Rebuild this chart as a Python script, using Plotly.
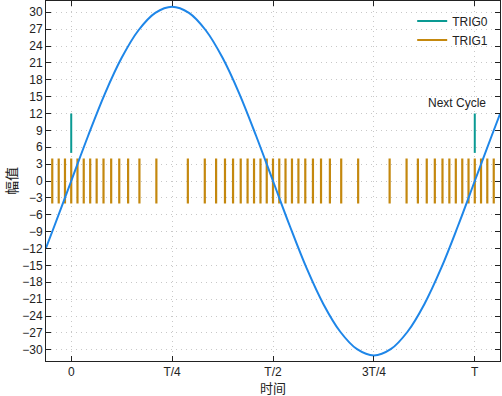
import plotly.graph_objects as go

# --- data (time in units of the period T) ---
tick_vals = [0, 0.25, 0.5, 0.75, 1.0]
tick_text = ["0", "T/4", "T/2", "3T/4", "T"]

# sine samples every T/24
sine_t = [-0.0625, -0.0417, 0.0, 0.0417, 0.0833, 0.125, 0.1667, 0.2083, 0.25,
          0.2917, 0.3333, 0.375, 0.4167, 0.4583, 0.5,
          0.5417, 0.5833, 0.625, 0.6667, 0.7083, 0.75,
          0.7917, 0.8333, 0.875, 0.9167, 0.9583, 1.0, 1.0417, 1.0625]
sine_v = [-11.9, -8.0, 0.0, 8.0, 15.5, 21.9, 26.8, 29.9, 31.0,
          29.9, 26.8, 21.9, 15.5, 8.0, 0.0,
          -8.0, -15.5, -21.9, -26.8, -29.9, -31.0,
          -29.9, -26.8, -21.9, -15.5, -8.0, 0.0, 8.0, 11.9]

trig0_t = [0.0, 1.0]
trig0_lo, trig0_hi = 5, 12

trig1_t = [-0.047, -0.031, -0.0155,
           0.0, 0.0155, 0.031, 0.047, 0.063, 0.080, 0.099, 0.119, 0.141, 0.169, 0.211,
           0.289, 0.331, 0.359, 0.381, 0.401, 0.420, 0.437, 0.453, 0.469, 0.4845,
           0.5, 0.5155, 0.531, 0.547, 0.563, 0.580, 0.599, 0.619, 0.641, 0.669, 0.711,
           0.789, 0.831, 0.859, 0.881, 0.901, 0.920, 0.937, 0.953, 0.969, 0.9845,
           1.0, 1.0155, 1.031, 1.047]
trig1_lo, trig1_hi = -4, 4

y_ticks = list(range(-30, 31, 3))

FONT = "Liberation Sans, Arial, Noto Sans CJK SC, sans-serif"
CJK = "Noto Sans CJK SC, sans-serif"

def segs(ts, lo, hi):
    xs, ys = [], []
    for t in ts:
        xs += [t, t, None]
        ys += [lo, hi, None]
    return xs, ys

fig = go.Figure()

x1, y1 = segs(trig1_t, trig1_lo, trig1_hi)
fig.add_trace(go.Scatter(x=x1, y=y1, mode="lines", name="TRIG1",
                         line=dict(color="#C4880E", width=2.2), showlegend=False))
fig.add_trace(go.Scatter(x=sine_t, y=sine_v, mode="lines", name="sine",
                         line=dict(color="#1E86E8", width=2, shape="spline", smoothing=1.0),
                         showlegend=False))
x0, y0 = segs(trig0_t, trig0_lo, trig0_hi)
fig.add_trace(go.Scatter(x=x0, y=y0, mode="lines", name="TRIG0",
                         line=dict(color="#0A9A93", width=2)))
fig.add_trace(go.Scatter(x=[None], y=[None], mode="lines", name="TRIG1",
                         line=dict(color="#C4880E", width=2)))

fig.add_annotation(x=0.956, y=13.9, text="Next Cycle", showarrow=False,
                   font=dict(size=12, color="#222", family=FONT))
fig.add_annotation(x=0.5, y=0, xref="paper", yref="paper", yshift=-26.5, text="时间",
                   showarrow=False, yanchor="middle", borderpad=0,
                   font=dict(size=13, color="#222", family=CJK))
fig.add_annotation(x=0, y=0.5, xref="paper", yref="paper", xshift=-35, text="幅值",
                   showarrow=False, textangle=-90, xanchor="center", borderpad=0,
                   font=dict(size=14, color="#222", family=CJK))

axis_common = dict(showline=True, linecolor="#222", linewidth=1, mirror="ticks",
                   ticks="inside", ticklen=5, tickcolor="#222",
                   showgrid=True, gridcolor="#c8c8c8", griddash="1px,4px", gridwidth=1,
                   zeroline=False, automargin=False,
                   tickfont=dict(size=12, color="#222", family=FONT))

fig.update_xaxes(range=[-0.0625, 1.0625], tickvals=tick_vals, ticktext=tick_text, **axis_common)
fig.update_yaxes(range=[-32, 32], tickvals=y_ticks, **axis_common)

fig.update_layout(width=502, height=396, margin=dict(l=46, r=2, t=1, b=35),
                  plot_bgcolor="white", paper_bgcolor="white",
                  font=dict(family=FONT, color="#222"),
                  legend=dict(x=0.985, y=0.985, xanchor="right", yanchor="top",
                              bgcolor="rgba(0,0,0,0)", font=dict(size=12, family=FONT)))

fig.write_html("out.html", config={"displayModeBar": False},
               post_script="document.body.style.margin='0';")
